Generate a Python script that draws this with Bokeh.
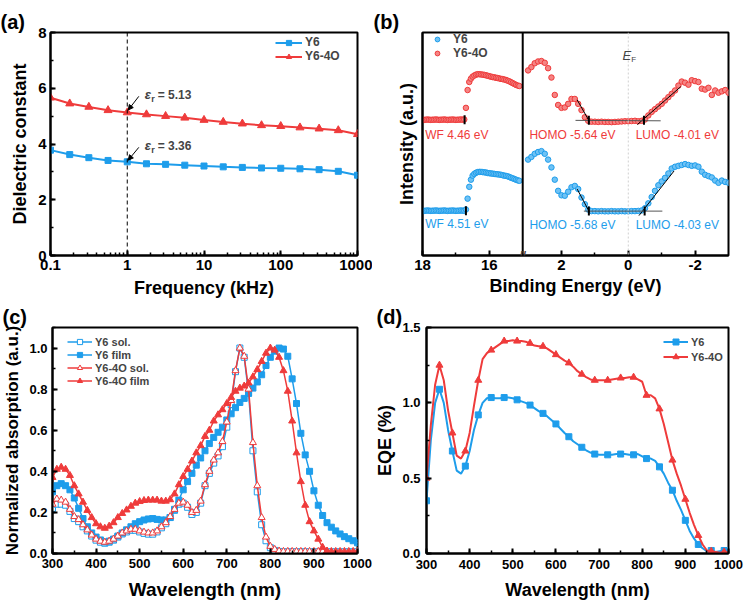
import math
from bokeh.plotting import figure
from bokeh.layouts import row, column
from bokeh.models import (Range1d, FixedTicker, SingleIntervalTicker, LogTicker, Span, Label,
                          Arrow, NormalHead, Legend, LegendItem, CustomJSTickFormatter,
                          PrintfTickFormatter)
from bokeh.embed import file_html
from bokeh.resources import INLINE

FONT = "Liberation Sans"
BLUE = "#1E9DEB"
RED = "#EF3B3B"

# ---------------- (a) dielectric constant ----------------
freq_khz = [0.1, 0.178, 0.316, 0.562, 1, 1.78, 3.16, 5.62, 10, 17.8, 31.6, 56.2, 100, 178, 316, 562, 1000]
eps_y6 = [3.78, 3.62, 3.51, 3.41, 3.36, 3.29, 3.27, 3.24, 3.21, 3.18, 3.16, 3.14, 3.13, 3.11, 3.08, 3.02, 2.88]
eps_y64o = [5.66, 5.45, 5.33, 5.21, 5.13, 5.06, 5.00, 4.94, 4.86, 4.79, 4.73, 4.67, 4.64, 4.59, 4.55, 4.49, 4.35]
eps_mark_f = 1
eps_notes = ["5.13", "3.36"]

# ---------------- (b) UPS ----------------
be_left = [18.00, 17.95, 17.90, 17.85, 17.80, 17.75, 17.70, 17.65, 17.60, 17.55, 17.50, 17.45, 17.40,
           17.35, 17.30, 17.25, 17.20, 17.15, 17.10, 17.05, 17.00, 16.95, 16.90, 16.85, 16.80, 16.75,
           16.70, 16.65, 16.60, 16.55, 16.50, 16.45, 16.40, 16.35, 16.30, 16.25, 16.20, 16.15, 16.10,
           16.05, 16.00, 15.95, 15.90, 15.85, 15.80, 15.75, 15.70, 15.65, 15.60, 15.55, 15.50, 15.45,
           15.40, 15.35, 15.30, 15.25, 15.20, 15.15, 15.10]
ups_left_y64o = [6.09, 6.08, 6.09, 6.10, 6.09, 6.08, 6.09, 6.09, 6.10, 6.09, 6.08, 6.09, 6.09,
                 6.10, 6.09, 6.08, 6.09, 6.09, 6.10, 6.09, 6.08, 6.09, 6.09, 6.10, 6.09, 6.10,
                 6.62, 7.42, 7.78, 7.93, 8.02, 8.07, 8.11, 8.13, 8.13, 8.12, 8.11, 8.10, 8.08,
                 8.06, 8.04, 8.02, 8.00, 7.99, 7.97, 7.96, 7.94, 7.92, 7.91, 7.89, 7.87, 7.84,
                 7.81, 7.77, 7.73, 7.69, 7.65, 7.62, 7.60]
ups_left_y6 = [2.01, 2.00, 2.01, 2.02, 2.01, 2.00, 2.01, 2.01, 2.02, 2.01, 2.00, 2.01, 2.01,
               2.02, 2.01, 2.00, 2.01, 2.01, 2.02, 2.01, 2.00, 2.01, 2.01, 2.02, 2.01, 2.01,
               2.06, 2.55, 3.08, 3.40, 3.58, 3.66, 3.71, 3.74, 3.75, 3.75, 3.74, 3.73, 3.72,
               3.70, 3.69, 3.68, 3.67, 3.66, 3.65, 3.64, 3.63, 3.62, 3.60, 3.58, 3.57, 3.55,
               3.52, 3.49, 3.46, 3.43, 3.40, 3.37, 3.35]
be_right = [3.0, 2.9, 2.8, 2.7, 2.6, 2.5, 2.4, 2.3, 2.2, 2.1, 2.0, 1.9, 1.8, 1.7, 1.6, 1.5, 1.4, 1.3,
            1.2, 1.1, 1.0, 0.9, 0.8, 0.7, 0.6, 0.5, 0.4, 0.3, 0.2, 0.1, 0.0, -0.1, -0.2, -0.3, -0.4,
            -0.5, -0.6, -0.7, -0.8, -0.9, -1.0, -1.1, -1.2, -1.3, -1.4, -1.5, -1.6, -1.7, -1.8, -1.9,
            -2.0, -2.1, -2.2, -2.3, -2.4, -2.5, -2.6, -2.7, -2.8, -2.9, -3.0]
ups_right_y64o = [8.30, 8.45, 8.62, 8.70, 8.72, 8.64, 8.40, 7.98, 7.20, 6.75, 6.62, 6.64, 6.80, 7.02,
                  7.02, 6.80, 6.52, 6.20, 6.04, 6.00, 6.00, 5.99, 6.00, 5.99, 5.99, 5.98, 5.99, 6.00,
                  6.01, 6.02, 6.02, 6.03, 6.04, 6.02, 6.04, 6.10, 6.28, 6.44, 6.56, 6.68, 6.80, 6.95,
                  7.10, 7.25, 7.40, 7.62, 7.80, 7.75, 7.66, 7.86, 7.82, 7.78, 7.48, 7.44, 7.52, 7.20,
                  7.40, 7.30, 7.36, 7.42, 7.30]
ups_right_y6 = [4.30, 4.42, 4.56, 4.64, 4.68, 4.56, 4.30, 3.95, 3.40, 2.90, 2.70, 2.68, 2.86, 3.06,
                3.12, 2.98, 2.60, 2.30, 2.06, 1.99, 1.99, 1.98, 1.99, 1.98, 1.98, 1.99, 1.98, 1.98,
                1.99, 1.98, 1.98, 1.99, 1.99, 2.00, 2.02, 2.12, 2.34, 2.62, 2.90, 3.15, 3.32, 3.48,
                3.68, 3.90, 3.98, 4.02, 4.06, 4.10, 4.06, 4.02, 4.04, 3.98, 3.76, 3.62, 3.56, 3.50,
                3.36, 3.26, 3.36, 3.30, 3.26]
# fitted guide lines (binding energy, intensity)
homo_fit_y64o = ([1.53, 1.16], [6.98, 6.00])
base_fit_y64o = ([1.58, -0.97], [6.06, 6.04])
lumo_fit_y64o = ([-0.27, -1.57], [5.87, 7.57])
homo_fit_y6 = ([1.53, 1.16], [2.98, 1.94])
base_fit_y6 = ([1.33, -1.02], [1.99, 1.99])
lumo_fit_y6 = ([-0.32, -1.37], [1.79, 3.79])
onset_right_x = [1.18, -0.47, 1.18, -0.49]
onset_right_y = [6.06, 6.06, 1.99, 1.99]
onset_left_x = [16.74, 16.70]
onset_left_y = [6.09, 2.01]
ups_texts = [("WF 4.46 eV", RED), ("WF 4.51 eV", BLUE),
             ("HOMO -5.64 eV", RED), ("LUMO -4.01 eV", RED),
             ("HOMO -5.68 eV", BLUE), ("LUMO -4.03 eV", BLUE)]

# ---------------- (c) absorption ----------------
wl_c = [300, 310, 320, 330, 340, 350, 360, 370, 380, 390, 400, 410, 420, 430, 440, 450, 460, 470,
        480, 490, 500, 510, 520, 530, 540, 550, 560, 570, 580, 590, 600, 610, 620, 630, 640, 650,
        660, 670, 680, 690, 700, 710, 720, 730, 740, 750, 760, 770, 780, 790, 800, 810, 820, 830,
        840, 850, 860, 870, 880, 890, 900, 910, 920, 930, 940, 950, 960, 970, 980, 990, 1000]
abs_y6_sol = [0.22, 0.24, 0.24, 0.235, 0.205, 0.17, 0.155, 0.13, 0.11, 0.085, 0.065, 0.055, 0.05,
              0.055, 0.065, 0.08, 0.095, 0.105, 0.113, 0.113, 0.105, 0.098, 0.094, 0.094, 0.105,
              0.125, 0.145, 0.175, 0.21, 0.24, 0.245, 0.225, 0.19, 0.20, 0.245, 0.33, 0.39, 0.44,
              0.475, 0.52, 0.615, 0.725, 0.885, 1.00, 0.955, 0.78, 0.50, 0.30, 0.14, 0.062, 0.028,
              0.015, 0.01, 0.008, 0.008, 0.008, 0.008, 0.008, 0.008, 0.008, 0.008, 0.008, 0.008,
              0.008, 0.008, 0.008, 0.008, 0.008, 0.008, 0.008, 0.008]
abs_y6_film = [0.30, 0.33, 0.34, 0.33, 0.31, 0.27, 0.22, 0.17, 0.13, 0.10, 0.08, 0.066, 0.056,
               0.06, 0.07, 0.085, 0.10, 0.115, 0.13, 0.145, 0.155, 0.163, 0.168, 0.17, 0.166,
               0.163, 0.163, 0.175, 0.215, 0.26, 0.31, 0.35, 0.39, 0.43, 0.465, 0.50, 0.535,
               0.565, 0.59, 0.615, 0.65, 0.68, 0.71, 0.735, 0.755, 0.78, 0.805, 0.835, 0.87,
               0.915, 0.955, 0.985, 1.00, 0.995, 0.96, 0.85, 0.73, 0.585, 0.48, 0.40, 0.305,
               0.235, 0.185, 0.15, 0.128, 0.11, 0.095, 0.082, 0.072, 0.062, 0.052]
abs_y64o_sol = [0.24, 0.265, 0.26, 0.25, 0.215, 0.18, 0.165, 0.14, 0.115, 0.09, 0.07, 0.06, 0.055,
                0.06, 0.07, 0.085, 0.10, 0.11, 0.118, 0.118, 0.11, 0.104, 0.10, 0.10, 0.11, 0.13,
                0.15, 0.18, 0.215, 0.245, 0.25, 0.235, 0.20, 0.21, 0.255, 0.335, 0.40, 0.455,
                0.49, 0.545, 0.64, 0.745, 0.89, 1.00, 0.96, 0.80, 0.54, 0.33, 0.175, 0.08, 0.035,
                0.02, 0.012, 0.01, 0.01, 0.01, 0.01, 0.01, 0.01, 0.01, 0.01, 0.01, 0.01, 0.01,
                0.01, 0.01, 0.01, 0.01, 0.01, 0.01, 0.01]
abs_y64o_film = [0.37, 0.41, 0.42, 0.41, 0.38, 0.33, 0.29, 0.25, 0.21, 0.175, 0.145, 0.13, 0.123,
                 0.133, 0.15, 0.175, 0.195, 0.212, 0.23, 0.245, 0.253, 0.258, 0.26, 0.26, 0.26,
                 0.255, 0.255, 0.262, 0.29, 0.335, 0.375, 0.41, 0.45, 0.49, 0.525, 0.57, 0.60,
                 0.645, 0.675, 0.70, 0.73, 0.76, 0.79, 0.805, 0.815, 0.83, 0.86, 0.895, 0.935,
                 0.975, 1.00, 0.99, 0.955, 0.89, 0.79, 0.645, 0.49, 0.35, 0.235, 0.155, 0.11,
                 0.07, 0.03, 0.012, 0.006, 0.005, 0.005, 0.005, 0.005, 0.005, 0.005]

# ---------------- (d) EQE ----------------
wl_d = wl_c
eqe_y6 = [0.35, 0.75, 1.00, 1.09, 1.00, 0.82, 0.68, 0.55, 0.53, 0.58, 0.68, 0.82, 0.92, 1.00, 1.03,
          1.035, 1.03, 1.03, 1.035, 1.035, 1.03, 1.02, 1.01, 1.00, 0.985, 0.965, 0.945, 0.93, 0.91,
          0.885, 0.86, 0.83, 0.80, 0.775, 0.745, 0.725, 0.705, 0.685, 0.67, 0.66, 0.655, 0.655,
          0.655, 0.655, 0.66, 0.66, 0.66, 0.655, 0.655, 0.66, 0.645, 0.63, 0.63, 0.615, 0.575,
          0.53, 0.47, 0.42, 0.35, 0.29, 0.22, 0.15, 0.10, 0.06, 0.035, 0.015, 0.02, 0.01, 0.015,
          0.02, 0.02]
eqe_y64o = [0.50, 0.85, 1.12, 1.25, 1.15, 0.95, 0.80, 0.65, 0.63, 0.68, 0.80, 0.98, 1.15, 1.29,
            1.33, 1.35, 1.37, 1.39, 1.41, 1.41, 1.415, 1.41, 1.41, 1.405, 1.395, 1.38, 1.375,
            1.375, 1.36, 1.34, 1.32, 1.30, 1.28, 1.265, 1.24, 1.21, 1.19, 1.17, 1.155, 1.15,
            1.15, 1.15, 1.15, 1.155, 1.16, 1.165, 1.165, 1.17, 1.17, 1.155, 1.14, 1.05, 1.05,
            1.03, 0.96, 0.86, 0.74, 0.62, 0.53, 0.45, 0.36, 0.27, 0.19, 0.12, 0.06, 0.02, 0.015,
            0.01, 0.005, 0.01, 0.005]


def style(p, tick_px, label_px, tick_standoff=3, label_standoff=3):
    for ax in p.axis:
        ax.axis_line_width = 2
        ax.major_tick_line_width = 2
        ax.minor_tick_line_width = 1.5
        ax.major_tick_in = 5
        ax.major_tick_out = 0
        ax.minor_tick_in = 3
        ax.minor_tick_out = 0
        ax.major_label_text_font = FONT
        ax.major_label_text_font_style = "bold"
        ax.major_label_text_font_size = f"{tick_px}px"
        ax.major_label_text_color = "black"
        ax.axis_label_text_font = FONT
        ax.axis_label_text_font_style = "bold"
        ax.axis_label_text_font_size = f"{label_px}px"
        ax.axis_label_text_color = "black"
        ax.major_label_standoff = tick_standoff
        ax.axis_label_standoff = label_standoff
    p.outline_line_color = "black"
    p.outline_line_width = 2
    p.outline_line_alpha = 1
    p.xgrid.visible = False
    p.ygrid.visible = False


def legend(items, loc, px, gw, gh, standoff):
    return Legend(items=items, location=loc, orientation="vertical",
                  border_line_color=None, background_fill_alpha=0,
                  label_text_font=FONT, label_text_font_style="bold",
                  label_text_font_size=f"{px}px",
                  glyph_width=gw, glyph_height=gh, label_height=gh,
                  label_standoff=standoff, padding=0, spacing=0, margin=0)


def panel_tag(p, text, offset):
    p.title.text = text
    p.title.align = "left"
    p.title.offset = offset
    p.title.standoff = 0
    p.title.text_font = FONT
    p.title.text_font_style = "bold"
    p.title.text_font_size = "20px"
    p.title.text_color = "black"


# ======================= panel (a) =======================
pa = figure(width=372, height=300, x_axis_type="log", x_range=Range1d(0.1, 1000),
            y_range=Range1d(0, 8), output_backend="svg", toolbar_location=None,
            min_border_left=50, min_border_right=15, min_border_top=32, min_border_bottom=42)
pa.xaxis.ticker = LogTicker(mantissas=[1], desired_num_ticks=5, num_minor_ticks=10)
pa.xaxis.formatter = CustomJSTickFormatter(code="return String(parseFloat(tick.toPrecision(6)));")
pa.yaxis.ticker = SingleIntervalTicker(interval=2, num_minor_ticks=2)
pa.xaxis.axis_label = "Frequency (kHz)"
pa.yaxis.axis_label = "Dielectric constant"
style(pa, 15, 18, 4, 5)
pa.add_layout(Span(location=eps_mark_f, dimension="height", line_color="black",
                   line_width=1, line_dash="4 3"))
a1 = pa.line(freq_khz, eps_y6, color=BLUE, line_width=2)
a2 = pa.scatter(freq_khz, eps_y6, marker="square", size=6, color=BLUE)
a3 = pa.line(freq_khz, eps_y64o, color=RED, line_width=2)
a4 = pa.scatter(freq_khz, eps_y64o, marker="triangle", size=8, color=RED)
pa.add_layout(legend([LegendItem(label="Y6", renderers=[a1, a2]),
                      LegendItem(label="Y6-4O", renderers=[a3, a4])], (225, 192), 12, 27, 13, 3))
for note, yt, ys, ye in [(eps_notes[0], 5.77, 5.71, 5.22), (eps_notes[1], 3.94, 3.88, 3.42)]:
    pa.add_layout(Arrow(end=NormalHead(size=5, fill_color="black", line_color="black"),
                        x_start=1.415, y_start=ys, x_end=1.03, y_end=ye,
                        line_color="black", line_width=1))
    pa.add_layout(Label(x=1.69, y=yt, text="ε", text_font=FONT, text_font_style="bold italic",
                        text_font_size="13px", text_baseline="middle"))
    pa.add_layout(Label(x=1.69, y=yt, x_offset=6.5, y_offset=-4, text="r", text_font=FONT,
                        text_font_style="bold", text_font_size="9px", text_baseline="middle"))
    pa.add_layout(Label(x=1.69, y=yt, x_offset=13, text="= " + note, text_font=FONT,
                        text_font_style="bold", text_font_size="12px", text_baseline="middle"))
panel_tag(pa, "(a)", -50)

# ======================= panel (b) =======================
pb = figure(width=372, height=300, x_range=Range1d(6.16, -3.0), y_range=Range1d(0, 10),
            output_backend="svg", toolbar_location=None,
            min_border_left=50, min_border_right=16, min_border_top=32, min_border_bottom=43)
pb.extra_x_ranges = {"wf": Range1d(18.0, 8.84)}
pb.xaxis.ticker = FixedTicker(ticks=[6.16, 4.16, 2, 0, -2], minor_ticks=[5.16, 1, -1])
pb.xaxis.formatter = CustomJSTickFormatter(
    code="return tick > 3.5 ? String(Math.round(tick + 11.84)) : String(Math.round(tick));")
pb.yaxis.ticker = FixedTicker(ticks=[])
pb.xaxis.axis_label = "Binding Energy (eV)"
pb.yaxis.axis_label = "Intensity (a.u.)"
style(pb, 15, 18, 4, 3)
pb.yaxis.major_label_standoff = 0
pb.yaxis.axis_label_standoff = 6
pb.add_layout(Span(location=0, dimension="height", line_color="#D0D0D0", line_width=1,
                   line_dash="2 2"))
pb.add_layout(Span(location=3.16, dimension="height", line_color="black", line_width=2))
pb.add_layout(Label(x=3.16, y=0, text="//", text_font=FONT, text_font_style="bold",
                    text_font_size="12px", text_align="center", text_baseline="middle"))
pb.add_layout(Label(x=0, y=8.98, x_offset=3, text="E", text_font=FONT, text_font_style="italic",
                    text_font_size="13px", text_align="right", text_baseline="middle"))
pb.add_layout(Label(x=0, y=8.98, x_offset=3, y_offset=-4, text="F", text_font=FONT,
                    text_font_size="8px", text_align="left", text_baseline="middle"))
ckw = dict(marker="circle", size=5.5, line_width=1)
b1 = pb.scatter(be_left, ups_left_y6, x_range_name="wf", color=BLUE, fill_color="#6EC2F5", **ckw)
pb.scatter(be_right, ups_right_y6, color=BLUE, fill_color="#6EC2F5", **ckw)
b2 = pb.scatter(be_left, ups_left_y64o, x_range_name="wf", color=RED, fill_color="#F58484", **ckw)
pb.scatter(be_right, ups_right_y64o, color=RED, fill_color="#F58484", **ckw)
for fx, fy in [homo_fit_y64o, lumo_fit_y64o, homo_fit_y6, lumo_fit_y6]:
    pb.line(fx, fy, color="black", line_width=1)
for fx, fy in [base_fit_y64o, base_fit_y6]:
    pb.line(fx, fy, color="#555555", line_width=1)
pb.scatter(onset_right_x, onset_right_y, marker="dash", angle=math.pi / 2, size=9,
           line_width=2, color="black")
pb.scatter(onset_left_x, onset_left_y, marker="dash", angle=math.pi / 2, size=9,
           line_width=2, color="black", x_range_name="wf")
tpos = [(17.92, 5.42, "wf"), (17.92, 1.42, "wf"), (2.96, 5.42, "default"),
        (-0.22, 5.42, "default"), (2.96, 1.38, "default"), (-0.22, 1.38, "default")]
for (txt, col), (tx, ty, rn) in zip(ups_texts, tpos):
    pb.add_layout(Label(x=tx, y=ty, x_range_name=rn, text=txt, text_color=col, text_font=FONT,
                        text_font_size="12px", text_baseline="middle"))
pb.add_layout(legend([LegendItem(label="Y6", renderers=[b1]),
                      LegendItem(label="Y6-4O", renderers=[b2])], (9, 195), 12, 12, 14, 10))
panel_tag(pb, "(b)", -49)

# ======================= panel (c) =======================
pc = figure(width=372, height=305, x_range=Range1d(300, 1000), y_range=Range1d(0, 1.1),
            output_backend="svg", toolbar_location=None,
            min_border_left=50, min_border_right=15, min_border_top=27, min_border_bottom=51)
pc.xaxis.ticker = SingleIntervalTicker(interval=100, num_minor_ticks=2)
pc.yaxis.ticker = SingleIntervalTicker(interval=0.2, num_minor_ticks=2)
pc.yaxis.formatter = PrintfTickFormatter(format="%.1f")
pc.xaxis.axis_label = "Wavelength (nm)"
pc.yaxis.axis_label = "Normalized absorption (a.u.)"
style(pc, 13, 17, 5, 4)
pc.xaxis.axis_label_text_font_size = "19px"
pc.xaxis.axis_label_standoff = 8
series_c = [
    ("Y6 sol.", abs_y6_sol, BLUE, "square", "white", 6),
    ("Y6 film", abs_y6_film, BLUE, "square", BLUE, 6),
    ("Y6-4O sol.", abs_y64o_sol, RED, "triangle", "white", 7),
    ("Y6-4O film", abs_y64o_film, RED, "triangle", RED, 7),
]
items_c = []
for name, ys, col, mk, fill, sz in series_c:
    rl = pc.line(wl_c, ys, color=col, line_width=1.5)
    rm = pc.scatter(wl_c, ys, marker=mk, size=sz, line_color=col, fill_color=fill, line_width=1)
    items_c.append(LegendItem(label=name, renderers=[rl, rm]))
pc.add_layout(legend(items_c, (15, 166), 11, 25, 13, 3))
panel_tag(pc, "(c)", -50)

# ======================= panel (d) =======================
pd = figure(width=372, height=305, x_range=Range1d(300, 1000), y_range=Range1d(0, 1.5),
            output_backend="svg", toolbar_location=None,
            min_border_left=50, min_border_right=16, min_border_top=26, min_border_bottom=52)
pd.xaxis.ticker = SingleIntervalTicker(interval=100, num_minor_ticks=2)
pd.yaxis.ticker = SingleIntervalTicker(interval=0.5, num_minor_ticks=2)
pd.yaxis.formatter = PrintfTickFormatter(format="%.1f")
pd.xaxis.axis_label = "Wavelength (nm)"
pd.yaxis.axis_label = "EQE (%)"
style(pd, 13, 18, 6, 4)
pd.xaxis.axis_label_standoff = 8
d1 = pd.line(wl_d, eqe_y6, color=BLUE, line_width=2)
d2 = pd.scatter(wl_d[::3], eqe_y6[::3], marker="square", size=6, color=BLUE)
d3 = pd.line(wl_d, eqe_y64o, color=RED, line_width=2)
d4 = pd.scatter(wl_d[::3], eqe_y64o[::3], marker="triangle", size=7, color=RED)
pd.add_layout(legend([LegendItem(label="Y6", renderers=[d1, d2]),
                      LegendItem(label="Y6-4O", renderers=[d3, d4])], (237, 189), 11, 25, 15, 3))
panel_tag(pd, "(d)", -50)

layout = column(row(pa, pb, spacing=0), row(pc, pd, spacing=0), spacing=0)
open("out.html", "w").write(file_html(layout, INLINE))
